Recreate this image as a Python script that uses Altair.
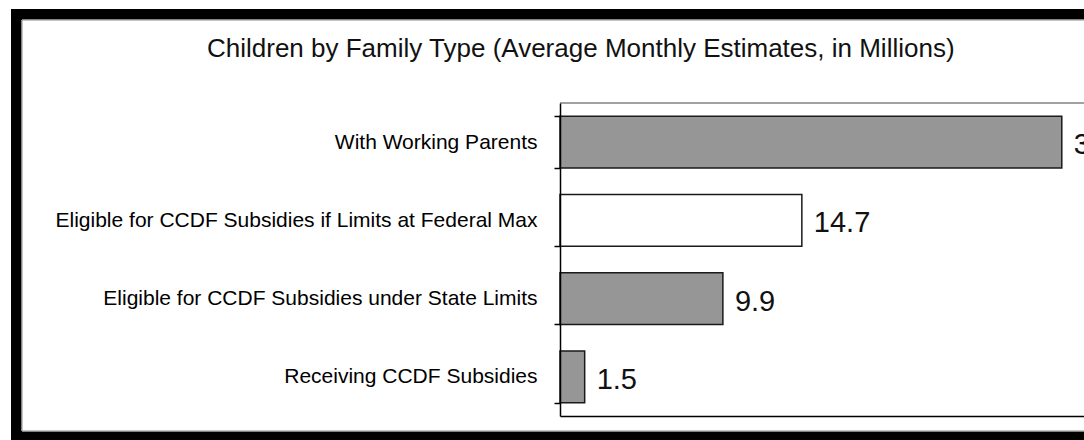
import altair as alt
import pandas as pd

categories = [
    "With Working Parents",
    "Eligible for CCDF Subsidies if Limits at Federal Max",
    "Eligible for CCDF Subsidies under State Limits",
    "Receiving CCDF Subsidies",
]
values = [30.5, 14.7, 9.9, 1.5]
labels = ["30.5", "14.7", "9.9", "1.5"]
title_text = "Children by Family Type (Average Monthly Estimates, in Millions)"

df = pd.DataFrame({"category": categories, "value": values, "label": labels})

W, H = 524, 313
PAD = {"left": 560, "top": 103, "right": 0, "bottom": 24}

base = alt.Chart(df)

# decorative frame (black border with thin gray inner line)
frame_black = base.mark_rect(color="black", clip=False).encode(
    x=alt.value(-549), x2=alt.value(W + 100), y=alt.value(-94), y2=alt.value(H + 60)
)
frame_white = base.mark_rect(fill="white", stroke="#8c8c8c", strokeWidth=1, clip=False).encode(
    x=alt.value(-538), x2=alt.value(W + 100), y=alt.value(-83), y2=alt.value(H + 15)
)
top_line = base.mark_rule(color="#a0a0a0", strokeWidth=1.5).encode(
    x=alt.value(0), x2=alt.value(W + 10), y=alt.value(0)
)

yenc = alt.Y(
    "category:N",
    sort=categories,
    scale=alt.Scale(paddingInner=0.34, paddingOuter=0.17),
    axis=alt.Axis(
        title=None,
        tickBand="extent",
        tickSize=6,
        tickColor="black",
        domainColor="black",
        domainWidth=1.5,
        tickWidth=1.5,
        labelFont="Liberation Sans",
        labelFontSize=21,
        labelColor="black",
        labelPadding=17,
        labelLimit=0,
        zindex=1,
    ),
)
xenc = alt.X(
    "value:Q",
    scale=alt.Scale(domain=[0, 31.85], nice=False, zero=True),
    axis=alt.Axis(
        title=None, labels=False, ticks=False, grid=False,
        domainColor="black", domainWidth=1.5, zindex=1,
    ),
)

bars = base.mark_bar(stroke="#1a1a1a", strokeWidth=1.5).encode(
    x=xenc,
    y=yenc,
    color=alt.Color(
        "category:N",
        scale=alt.Scale(domain=categories, range=["#969696", "#ffffff", "#969696", "#969696"]),
        legend=None,
    ),
)
texts = base.mark_text(
    align="left", baseline="middle", dx=12, dy=3, fontSize=29,
    font="Liberation Sans", color="#111111",
).encode(x="value:Q", y=alt.Y("category:N", sort=categories), text="label:N")

chart = (
    alt.layer(frame_black, frame_white, top_line, bars, texts)
    .properties(
        width=W,
        height=H,
        padding=PAD,
        autosize=alt.AutoSizeParams(type="none"),
        background="white",
        title=alt.TitleParams(
            text=title_text,
            font="Liberation Sans",
            fontSize=26,
            fontWeight="normal",
            color="#111111",
            anchor="start",
            frame="group",
            baseline="alphabetic",
            dx=-353,
            dy=74,
            offset=0,
        ),
    )
    .configure_view(stroke="transparent", strokeWidth=0)
)

chart.save("out.html", embed_options={"renderer": "svg", "actions": False})
